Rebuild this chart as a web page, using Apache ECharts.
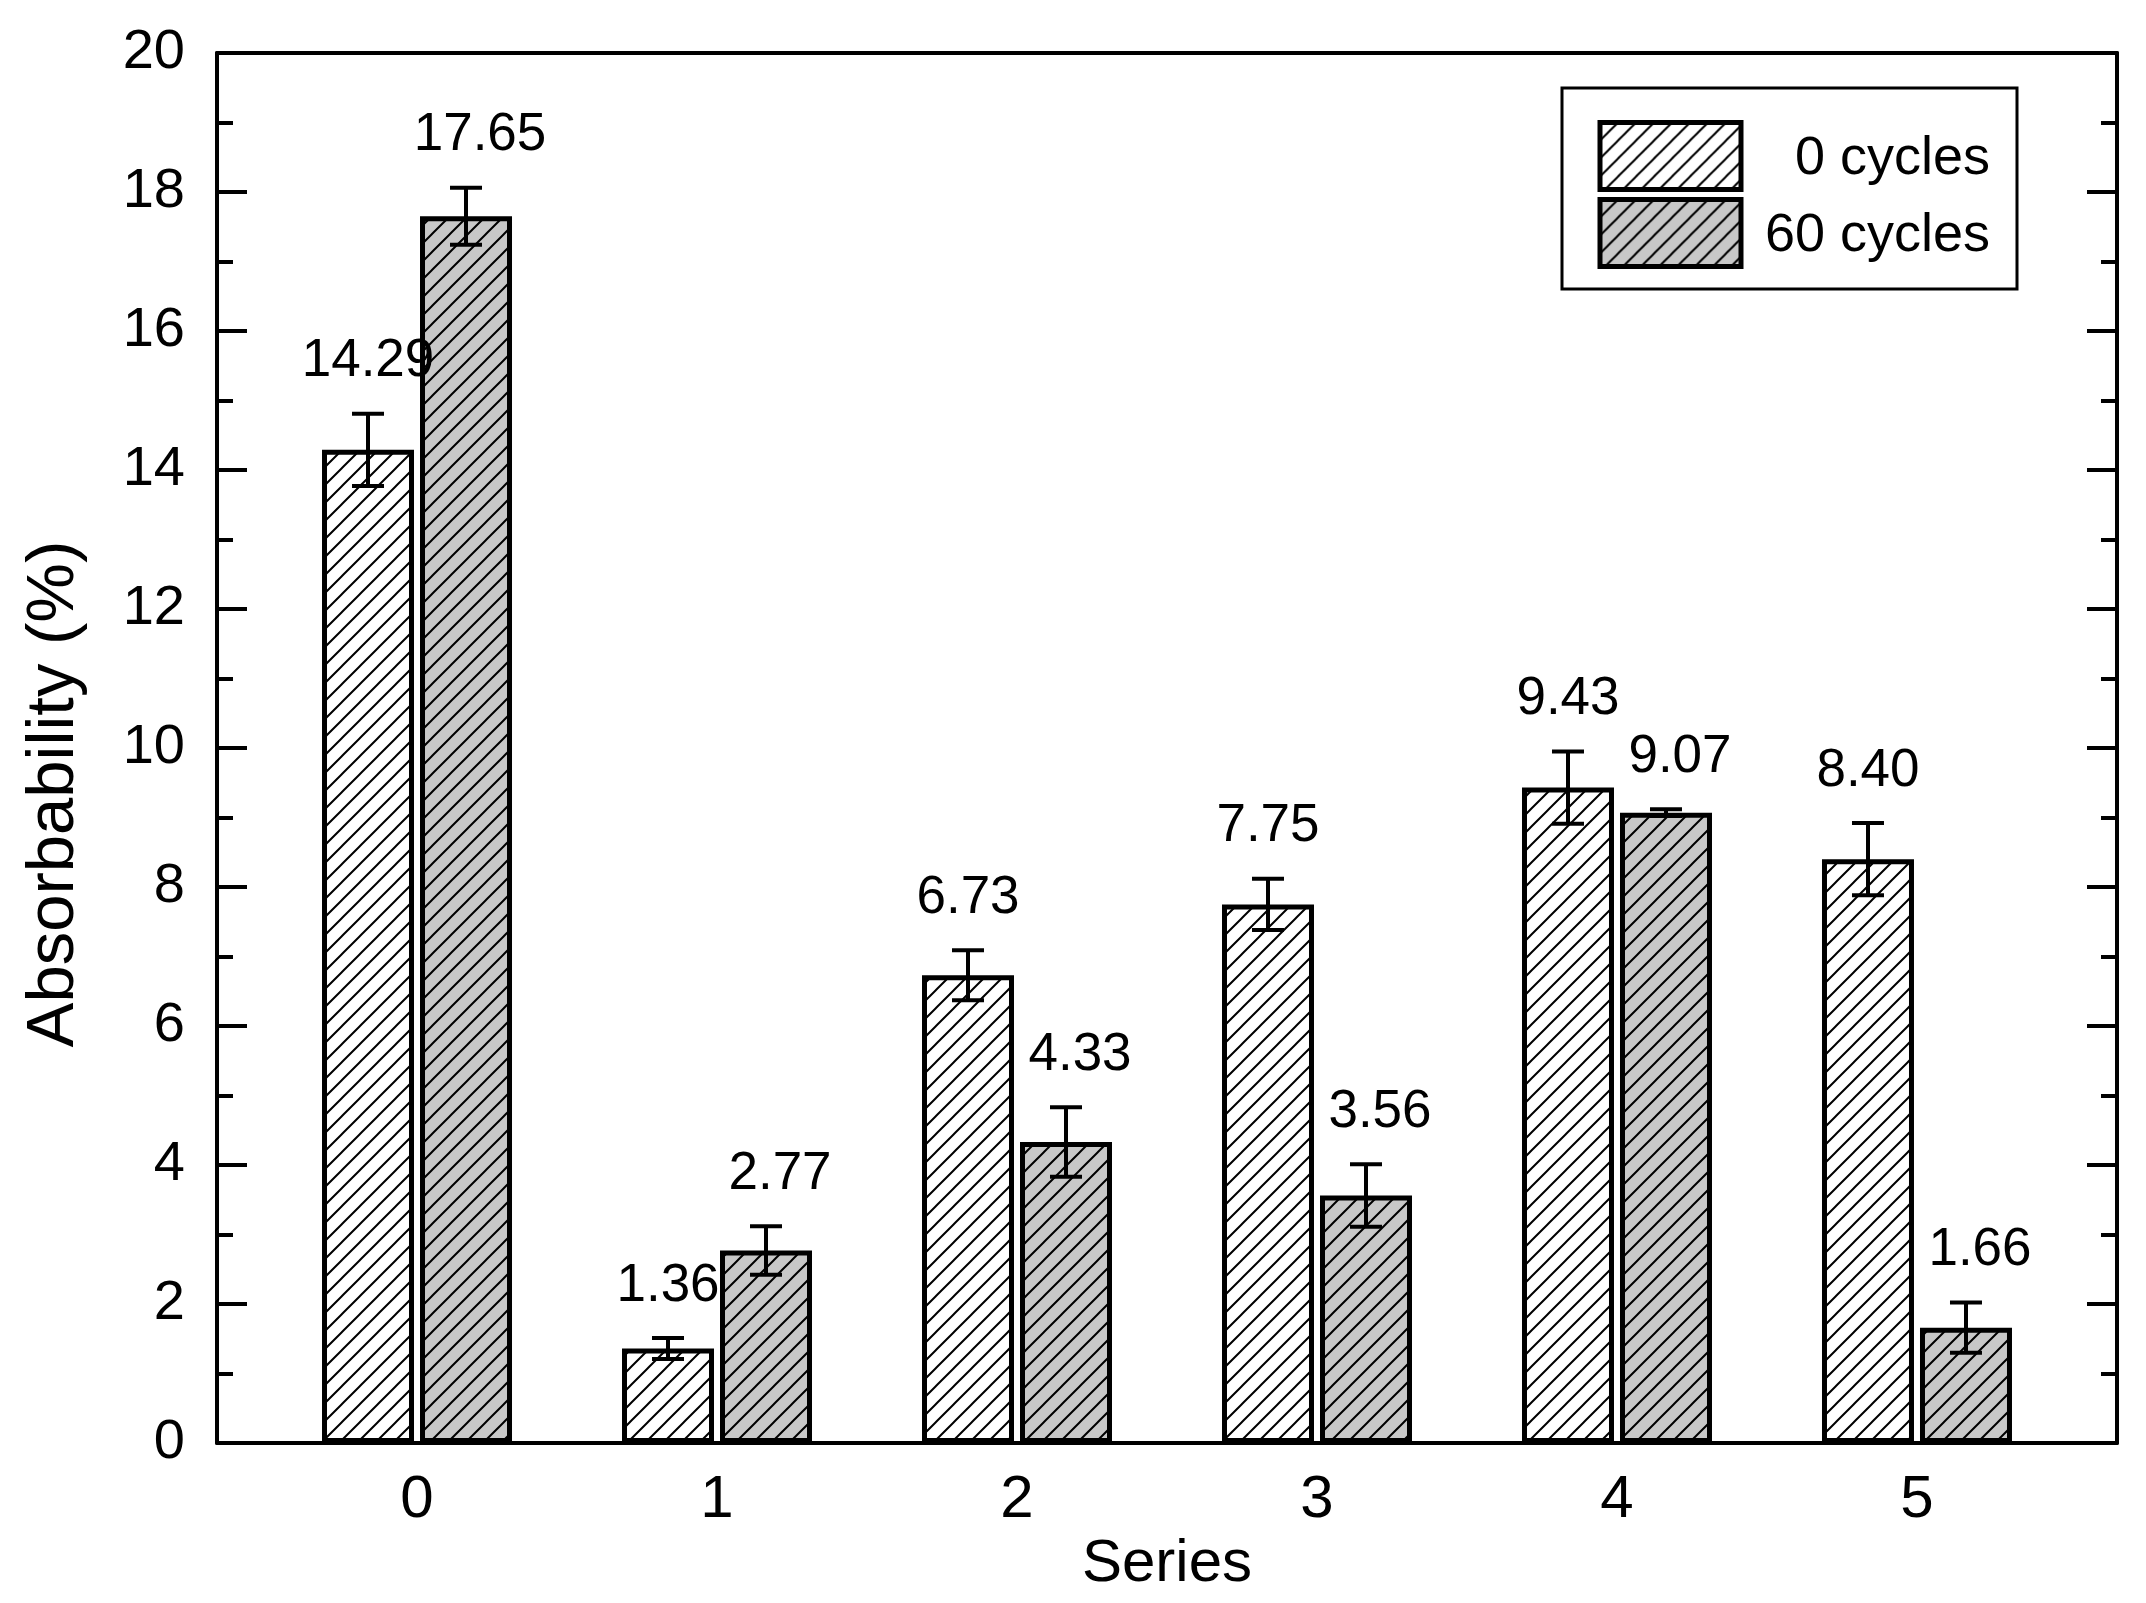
<!DOCTYPE html>
<html>
<head>
<meta charset="utf-8">
<script src="https://cdn.jsdelivr.net/npm/echarts@6/dist/echarts.min.js"></script>
<style>
html,body{margin:0;padding:0;background:#fff;}
#chart{width:2146px;height:1603px;}
</style>
</head>
<body>
<div id="chart"></div>
<script>
// ---- data ----
const categories = ['0', '1', '2', '3', '4', '5'];
const seriesNames = ['0 cycles', '60 cycles'];
const cycles0 = [14.29, 1.36, 6.73, 7.75, 9.43, 8.40];
const cycles60 = [17.65, 2.77, 4.33, 3.56, 9.07, 1.66];
const err0 = [0.52, 0.15, 0.36, 0.37, 0.52, 0.52];
const err60 = [0.41, 0.35, 0.50, 0.45, 0.05, 0.36];
const yTicks = [0, 2, 4, 6, 8, 10, 12, 14, 16, 18, 20];

// ---- styles ----
const FONT = '"Liberation Sans", Arial, sans-serif';
const BAR_W = 92;
const BAR_GAP = 6;

function hatch(bg) {
  const s = 18;
  const c = document.createElement('canvas');
  c.width = s; c.height = s;
  const g = c.getContext('2d');
  g.fillStyle = bg;
  g.fillRect(0, 0, s, s);
  g.strokeStyle = '#000';
  g.lineWidth = 2;
  g.beginPath();
  g.moveTo(-2, s + 2); g.lineTo(s + 2, -2);
  g.moveTo(-2, 2); g.lineTo(2, -2);
  g.moveTo(s - 2, s + 2); g.lineTo(s + 2, s - 2);
  g.stroke();
  return { image: c, repeat: 'repeat' };
}
const fills = [hatch('#ffffff'), hatch('#c8c8c8')];

const chart = echarts.init(document.getElementById('chart'), null, { renderer: 'canvas' });

function barData(vals) { return vals.map((v, i) => [i, v]); }
function errData(vals, errs) { return vals.map((v, i) => [i, v, errs[i]]); }

function errRender(offset, labelShift) {
  return function (params, api) {
    const xv = api.value(0), v = api.value(1), e = api.value(2);
    const x = api.coord([xv, v])[0] + offset;
    const hi = api.coord([xv, v + e])[1];
    const lo = api.coord([xv, v - e])[1];
    const cap = 16;
    const ls = { stroke: '#000', lineWidth: 4 };
    return {
      type: 'group',
      children: [
        { type: 'line', shape: { x1: x, y1: hi, x2: x, y2: lo }, style: ls },
        { type: 'line', shape: { x1: x - cap, y1: hi, x2: x + cap, y2: hi }, style: ls },
        { type: 'line', shape: { x1: x - cap, y1: lo, x2: x + cap, y2: lo }, style: ls },
        { type: 'text', style: { text: v.toFixed(2), x: x + labelShift, y: hi - 52, align: 'center', verticalAlign: 'middle', fontSize: 53, fontFamily: FONT, fill: '#000' } }
      ]
    };
  };
}

const half = (BAR_W + BAR_GAP) / 2;

const option = {
  animation: false,
  backgroundColor: '#fff',
  grid: { left: 217, top: 53, width: 1900, height: 1390, show: false },
  legend: {
    data: seriesNames,
    orient: 'vertical',
    left: 1562,
    top: 88,
    padding: [32, 27, 20, 35.5],
    borderColor: '#000',
    borderWidth: 3,
    itemWidth: 141,
    itemHeight: 67,
    itemGap: 5,
    icon: 'rect',
    itemStyle: { borderWidth: 5, borderColor: '#000' },
    formatter: function (n) { return '{a|' + n + '}'; },
    textStyle: {
      rich: { a: { width: 244, align: 'right', fontSize: 54, fontFamily: FONT, color: '#000', lineHeight: 60, padding: [7, 0, 0, 0] } }
    },
    selectedMode: false
  },
  xAxis: [
    {
      type: 'value',
      min: -0.6667,
      max: 5.6667,
      position: 'bottom',
      name: 'Series',
      nameLocation: 'middle',
      nameGap: 90,
      nameTextStyle: { fontSize: 60, fontFamily: FONT, color: '#000' },
      axisLine: { show: true, onZero: false, lineStyle: { color: '#000', width: 4 } },
      axisTick: { show: false },
      splitLine: { show: false },
      axisLabel: {
        customValues: categories.map((c, i) => i),
        formatter: function (v) { const i = Math.round(v); return Math.abs(v - i) < 1e-6 && categories[i] !== undefined ? categories[i] : ''; },
        fontSize: 60, fontFamily: FONT, color: '#000', margin: 27
      }
    },
    {
      type: 'value',
      min: -0.6667,
      max: 5.6667,
      position: 'top',
      axisLine: { show: true, onZero: false, lineStyle: { color: '#000', width: 4 } },
      axisTick: { show: false },
      axisLabel: { show: false },
      splitLine: { show: false }
    }
  ],
  yAxis: [
    {
      type: 'value',
      min: yTicks[0],
      max: yTicks[yTicks.length - 1],
      interval: 2,
      position: 'left',
      name: 'Absorbability (%)',
      nameLocation: 'middle',
      nameGap: 129,
      nameTextStyle: { fontSize: 67, fontFamily: FONT, color: '#000', padding: [0, 92, 0, 0] },
      axisLine: { show: true, onZero: false, lineStyle: { color: '#000', width: 4 } },
      axisTick: { show: true, inside: true, length: 30, lineStyle: { color: '#000', width: 4 } },
      minorTick: { show: true, splitNumber: 2, length: 16, lineStyle: { color: '#000', width: 4 } },
      splitLine: { show: false },
      axisLabel: { fontSize: 56, fontFamily: FONT, color: '#000', margin: 32 }
    },
    {
      type: 'value',
      min: yTicks[0],
      max: yTicks[yTicks.length - 1],
      interval: 2,
      position: 'right',
      axisLine: { show: true, onZero: false, lineStyle: { color: '#000', width: 4 } },
      axisTick: { show: true, inside: true, length: 30, lineStyle: { color: '#000', width: 4 } },
      minorTick: { show: true, splitNumber: 2, length: 16, lineStyle: { color: '#000', width: 4 } },
      splitLine: { show: false },
      axisLabel: { show: false }
    }
  ],
  series: [
    {
      name: seriesNames[0], type: 'bar', xAxisIndex: 0, yAxisIndex: 0,
      data: barData(cycles0), barWidth: BAR_W, barGap: (BAR_GAP / BAR_W * 100) + '%',
      itemStyle: { color: fills[0], borderColor: '#000', borderWidth: 5 }
    },
    {
      name: seriesNames[1], type: 'bar', xAxisIndex: 0, yAxisIndex: 0,
      data: barData(cycles60), barWidth: BAR_W, barGap: (BAR_GAP / BAR_W * 100) + '%',
      itemStyle: { color: fills[1], borderColor: '#000', borderWidth: 5 }
    },
    {
      name: 'err0', type: 'custom', xAxisIndex: 0, yAxisIndex: 0, z: 5,
      data: errData(cycles0, err0), encode: { x: 0, y: 1 },
      renderItem: errRender(-half, 0)
    },
    {
      name: 'err60', type: 'custom', xAxisIndex: 0, yAxisIndex: 0, z: 5,
      data: errData(cycles60, err60), encode: { x: 0, y: 1 },
      renderItem: errRender(half, 14)
    }
  ]
};
chart.setOption(option);
</script>
</body>
</html>
